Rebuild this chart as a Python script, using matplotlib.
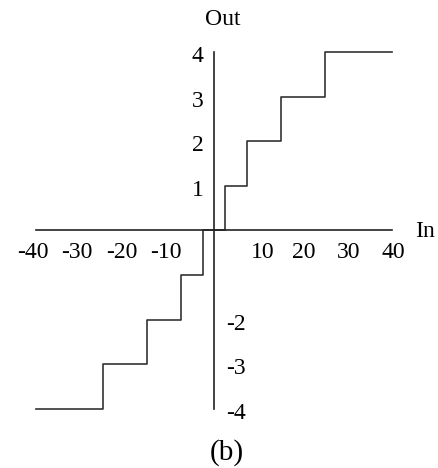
import matplotlib
matplotlib.use("Agg")
import matplotlib.pyplot as plt

# quantizer staircase: input thresholds and output levels
in_pts = [-40, -25, -15, -7.5, -2.5, 2.5, 7.5, 15, 25, 40]
out_pts = [-4, -3, -2, -1, 0, 1, 2, 3, 4, 4]

xticks = [-40, -30, -20, -10, 10, 20, 30, 40]
yticks_pos = [1, 2, 3, 4]
yticks_neg = [-2, -3, -4]

plt.rcParams['font.family'] = ['Liberation Serif', 'DejaVu Serif']

fig = plt.figure(figsize=(4.38, 4.68), dpi=100)
ax = fig.add_axes([0, 0, 1, 1])
ax.set_xlim(-48.2, 50.45)
ax.set_ylim(-5.325, 5.168)
ax.axis('off')

ax.plot(in_pts, out_pts, drawstyle='steps-post', color='#333333', lw=1.2)

# axes through the origin
ax.plot([xticks[0], xticks[-1]], [0, 0], color='#222222', lw=1.2)
ax.plot([0, 0], [-4, 4], color='#222222', lw=1.2)

fs = 17
for v in xticks:
    # small outward nudge keeps the inner labels clear of the steps
    dx = -0.8 if v < 0 else (1.0 if v == 10 else 0.3)
    ax.text(v + dx, -0.5, str(v), ha='center', va='center', fontsize=fs)
for v in yticks_pos:
    ax.text(-2.4, v - 0.1, str(v), ha='right', va='center', fontsize=fs)
for v in yticks_neg:
    ax.text(2.7, v - 0.1, str(v), ha='left', va='center', fontsize=fs)

ax.text(2.0, 4.74, 'Out', ha='center', va='center', fontsize=fs)
ax.text(47.5, -0.03, 'In', ha='center', va='center', fontsize=fs)
ax.text(2.9, -4.97, '(b)', ha='center', va='center', fontsize=21)

fig.savefig('out.png', dpi=100)
